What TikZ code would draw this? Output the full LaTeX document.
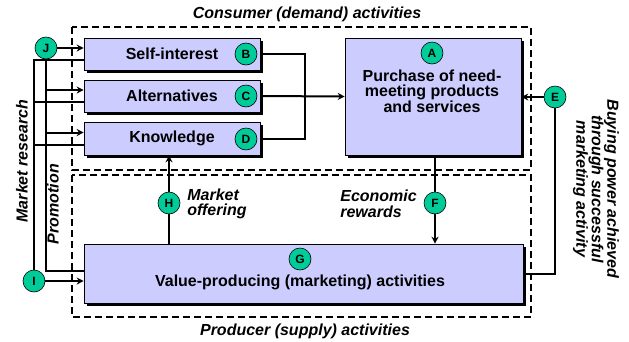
\documentclass[tikz,border=0pt]{standalone}
\usepackage{fontspec}
\setmainfont{Liberation Sans}
\usetikzlibrary{positioning,shadows,arrows.meta}

\definecolor{boxblue}{HTML}{CCCCFF}
\definecolor{tagteal}{HTML}{00CC99}

\begin{document}
\begin{tikzpicture}[x=1pt, y=-1pt, line width=2pt, >={Stealth[length=7pt,width=7pt]},
  every node/.style={font=\bfseries\fontsize{16}{15.5}\selectfont},
  box/.style={draw, line width=0.6pt, fill=boxblue, inner sep=0pt,
    drop shadow={shadow xshift=3pt, shadow yshift=-3pt, opacity=1, fill=black}},
  tag/.style={circle, draw, line width=0.6pt, fill=tagteal, minimum size=22pt,
    inner sep=0pt, font=\bfseries\fontsize{12}{12}\selectfont},
  zone/.style={dash pattern=on 7pt off 4pt},
  side/.style={font=\bfseries\itshape\fontsize{16}{15.5}\selectfont}]
  \useasboundingbox (0,0) rectangle (629,341);

  % consumer and producer areas
  \draw[zone] (72,27) rectangle (531,170);
  \draw[zone] (72,175) rectangle (531,317);
  \node[side] (demand) at (307,14) {Consumer (demand) activities};
  \node[side] (supply) at (305,331) {Producer (supply) activities};

  % boxes
  \node[box, minimum width=176pt, minimum height=32pt] (si) at (172,54) {Self-interest};
  \node[box, minimum width=176pt, minimum height=32pt] (al) at (172,96) {Alternatives};
  \node[box, minimum width=176pt, minimum height=33pt] (kn) at (172,138.5) {Knowledge};
  \node[box, minimum width=176pt, minimum height=117pt] (pa) at (433,96.5) {};
  \node[box, minimum width=439pt, minimum height=59pt] (vp) at (303.5,273.5) {};

  % lettered tags
  \node[tag] (A) at (432,53) {A};
  \node[tag] (B) at (246,54) {B};
  \node[tag] (C) at (246,96) {C};
  \node[tag] (D) at (246,139) {D};
  \node[tag] (E) at (555,97) {E};
  \node[tag] (F) at (435,203) {F};
  \node[tag] (G) at (300,259) {G};
  \node[tag] (H) at (169,203) {H};
  \node[tag] (I) at (34,281) {I};
  \node[tag] (J) at (46,48) {J};

  \node[below=1pt of A, align=center] (patext) {Purchase of need-\\meeting products\\and services};
  \node[below=0pt of G] (vptext) {Value-producing (marketing) activities};

  % demand side
  \draw (si.east) -- ++(45,0) |- (kn.east);
  \draw[->] (al.east) -- (pa.west);
  \draw[->] (E) -- (E -| pa.east);
  \draw (E) |- (vp.east);
  \draw (pa.south -| F) -- (F);
  \draw[->] (F) -- (F |- vp.north);
  \draw (vp.north -| H) -- (H);
  \draw[->] (H) -- (H |- kn.south);

  % market research and promotion
  \draw[->] (J) -- (J -| si.west);
  \draw (J) |- ([yshift=2.5pt]vp.west);
  \draw[->] (I) -- (I -| vp.west);
  \draw ([yshift=-6pt]si.west) -| (I);
  \foreach \b in {al, kn} {
    \path ([yshift=6pt]\b.west) coordinate (\b-in)
          ([yshift=-6pt]\b.west) coordinate (\b-out);
    \draw[->] (\b-in -| J) -- (\b-in);
    \draw (\b-out) -- (\b-out -| I);
  }

  \node[right] (offer) at (183,204) [side, align=left] {Market\\offering};
  \node[right] (reward) at (336,204) [side, align=left] {Economic\\rewards};
  \node[side, rotate=90] (research) at (22,161) {Market research};
  \node[side, rotate=90] (promo) at (53,204) {Promotion};
  \node[side, rotate=-90, align=center] (power) at (596,189)
    {Buying power achieved\\through successful\\marketing activity};
\end{tikzpicture}
\end{document}
